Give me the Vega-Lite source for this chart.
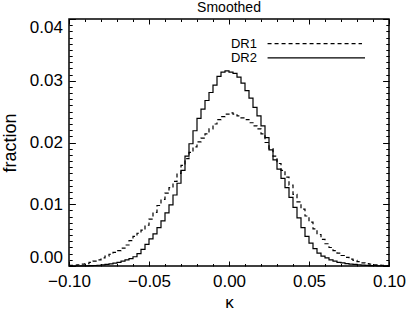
{
  "$schema": "https://vega.github.io/schema/vega-lite/v6.json",
  "width": 320,
  "height": 247,
  "autosize": "none",
  "padding": {"left": 69, "top": 19, "right": 20, "bottom": 47},
  "background": "white",
  "title": {"text": "Smoothed", "font": "Liberation Sans", "fontSize": 14, "fontWeight": "normal", "color": "black", "offset": 1, "anchor": "middle"},
  "config": {
    "view": {"stroke": "black", "strokeWidth": 1.5},
    "axis": {"grid": false, "domain": false, "tickColor": "black", "tickWidth": 1, "labelColor": "black", "titleColor": "black", "labelFont": "Liberation Sans", "titleFont": "Liberation Sans", "titleFontWeight": "normal", "labelOverlap": false}
  },
  "datasets": {
    "hist": [
      {"series": "DR2", "kappa": -0.1, "fraction": 0},
      {"series": "DR2", "kappa": -0.0975, "fraction": 0},
      {"series": "DR2", "kappa": -0.095, "fraction": 0},
      {"series": "DR2", "kappa": -0.0925, "fraction": 0.00002},
      {"series": "DR2", "kappa": -0.09, "fraction": 0.00003},
      {"series": "DR2", "kappa": -0.0875, "fraction": 0.00005},
      {"series": "DR2", "kappa": -0.085, "fraction": 0.00008},
      {"series": "DR2", "kappa": -0.0825, "fraction": 0.00012},
      {"series": "DR2", "kappa": -0.08, "fraction": 0.00018},
      {"series": "DR2", "kappa": -0.0775, "fraction": 0.00025},
      {"series": "DR2", "kappa": -0.075, "fraction": 0.00034},
      {"series": "DR2", "kappa": -0.0725, "fraction": 0.00046},
      {"series": "DR2", "kappa": -0.07, "fraction": 0.0006},
      {"series": "DR2", "kappa": -0.0675, "fraction": 0.0008},
      {"series": "DR2", "kappa": -0.065, "fraction": 0.00098},
      {"series": "DR2", "kappa": -0.0625, "fraction": 0.0012},
      {"series": "DR2", "kappa": -0.06, "fraction": 0.0015},
      {"series": "DR2", "kappa": -0.0575, "fraction": 0.002},
      {"series": "DR2", "kappa": -0.055, "fraction": 0.0027},
      {"series": "DR2", "kappa": -0.0525, "fraction": 0.0035},
      {"series": "DR2", "kappa": -0.05, "fraction": 0.0044},
      {"series": "DR2", "kappa": -0.0475, "fraction": 0.0052},
      {"series": "DR2", "kappa": -0.045, "fraction": 0.0062},
      {"series": "DR2", "kappa": -0.0425, "fraction": 0.0073},
      {"series": "DR2", "kappa": -0.04, "fraction": 0.0086},
      {"series": "DR2", "kappa": -0.0375, "fraction": 0.0099},
      {"series": "DR2", "kappa": -0.035, "fraction": 0.0115},
      {"series": "DR2", "kappa": -0.0325, "fraction": 0.0134},
      {"series": "DR2", "kappa": -0.03, "fraction": 0.0155},
      {"series": "DR2", "kappa": -0.0275, "fraction": 0.0178},
      {"series": "DR2", "kappa": -0.025, "fraction": 0.0198},
      {"series": "DR2", "kappa": -0.0225, "fraction": 0.0219},
      {"series": "DR2", "kappa": -0.02, "fraction": 0.0239},
      {"series": "DR2", "kappa": -0.0175, "fraction": 0.0254},
      {"series": "DR2", "kappa": -0.015, "fraction": 0.0268},
      {"series": "DR2", "kappa": -0.0125, "fraction": 0.0281},
      {"series": "DR2", "kappa": -0.01, "fraction": 0.0293},
      {"series": "DR2", "kappa": -0.0075, "fraction": 0.0307},
      {"series": "DR2", "kappa": -0.005, "fraction": 0.0314},
      {"series": "DR2", "kappa": -0.0025, "fraction": 0.0316},
      {"series": "DR2", "kappa": 0, "fraction": 0.0314},
      {"series": "DR2", "kappa": 0.0025, "fraction": 0.0312},
      {"series": "DR2", "kappa": 0.005, "fraction": 0.0306},
      {"series": "DR2", "kappa": 0.0075, "fraction": 0.0296},
      {"series": "DR2", "kappa": 0.01, "fraction": 0.0284},
      {"series": "DR2", "kappa": 0.0125, "fraction": 0.0272},
      {"series": "DR2", "kappa": 0.015, "fraction": 0.0257},
      {"series": "DR2", "kappa": 0.0175, "fraction": 0.0243},
      {"series": "DR2", "kappa": 0.02, "fraction": 0.0227},
      {"series": "DR2", "kappa": 0.0225, "fraction": 0.0208},
      {"series": "DR2", "kappa": 0.025, "fraction": 0.0188},
      {"series": "DR2", "kappa": 0.0275, "fraction": 0.0172},
      {"series": "DR2", "kappa": 0.03, "fraction": 0.0157},
      {"series": "DR2", "kappa": 0.0325, "fraction": 0.0142},
      {"series": "DR2", "kappa": 0.035, "fraction": 0.0127},
      {"series": "DR2", "kappa": 0.0375, "fraction": 0.0111},
      {"series": "DR2", "kappa": 0.04, "fraction": 0.0095},
      {"series": "DR2", "kappa": 0.0425, "fraction": 0.0078},
      {"series": "DR2", "kappa": 0.045, "fraction": 0.0062},
      {"series": "DR2", "kappa": 0.0475, "fraction": 0.0048},
      {"series": "DR2", "kappa": 0.05, "fraction": 0.0037},
      {"series": "DR2", "kappa": 0.0525, "fraction": 0.0028},
      {"series": "DR2", "kappa": 0.055, "fraction": 0.0021},
      {"series": "DR2", "kappa": 0.0575, "fraction": 0.0016},
      {"series": "DR2", "kappa": 0.06, "fraction": 0.0013},
      {"series": "DR2", "kappa": 0.0625, "fraction": 0.001},
      {"series": "DR2", "kappa": 0.065, "fraction": 0.0008},
      {"series": "DR2", "kappa": 0.0675, "fraction": 0.0006},
      {"series": "DR2", "kappa": 0.07, "fraction": 0.0005},
      {"series": "DR2", "kappa": 0.0725, "fraction": 0.0004},
      {"series": "DR2", "kappa": 0.075, "fraction": 0.0003},
      {"series": "DR2", "kappa": 0.0775, "fraction": 0.00025},
      {"series": "DR2", "kappa": 0.08, "fraction": 0.0002},
      {"series": "DR2", "kappa": 0.0825, "fraction": 0.00015},
      {"series": "DR2", "kappa": 0.085, "fraction": 0.0001},
      {"series": "DR2", "kappa": 0.0875, "fraction": 0.00007},
      {"series": "DR2", "kappa": 0.09, "fraction": 0.00005},
      {"series": "DR2", "kappa": 0.0925, "fraction": 0.00003},
      {"series": "DR2", "kappa": 0.095, "fraction": 0.00002},
      {"series": "DR2", "kappa": 0.0975, "fraction": 0.00001},
      {"series": "DR2", "kappa": 0.1, "fraction": 0.00001},
      {"series": "DR1", "kappa": -0.1, "fraction": 0.0001},
      {"series": "DR1", "kappa": -0.0975, "fraction": 0.00015},
      {"series": "DR1", "kappa": -0.095, "fraction": 0.0002},
      {"series": "DR1", "kappa": -0.0925, "fraction": 0.0003},
      {"series": "DR1", "kappa": -0.09, "fraction": 0.0004},
      {"series": "DR1", "kappa": -0.0875, "fraction": 0.0006},
      {"series": "DR1", "kappa": -0.085, "fraction": 0.0008},
      {"series": "DR1", "kappa": -0.0825, "fraction": 0.001},
      {"series": "DR1", "kappa": -0.08, "fraction": 0.0013},
      {"series": "DR1", "kappa": -0.0775, "fraction": 0.0016},
      {"series": "DR1", "kappa": -0.075, "fraction": 0.0019},
      {"series": "DR1", "kappa": -0.0725, "fraction": 0.0022},
      {"series": "DR1", "kappa": -0.07, "fraction": 0.0025},
      {"series": "DR1", "kappa": -0.0675, "fraction": 0.0029},
      {"series": "DR1", "kappa": -0.065, "fraction": 0.0034},
      {"series": "DR1", "kappa": -0.0625, "fraction": 0.0041},
      {"series": "DR1", "kappa": -0.06, "fraction": 0.0048},
      {"series": "DR1", "kappa": -0.0575, "fraction": 0.0053},
      {"series": "DR1", "kappa": -0.055, "fraction": 0.0058},
      {"series": "DR1", "kappa": -0.0525, "fraction": 0.0066},
      {"series": "DR1", "kappa": -0.05, "fraction": 0.0076},
      {"series": "DR1", "kappa": -0.0475, "fraction": 0.0087},
      {"series": "DR1", "kappa": -0.045, "fraction": 0.0098},
      {"series": "DR1", "kappa": -0.0425, "fraction": 0.0108},
      {"series": "DR1", "kappa": -0.04, "fraction": 0.0118},
      {"series": "DR1", "kappa": -0.0375, "fraction": 0.0127},
      {"series": "DR1", "kappa": -0.035, "fraction": 0.0137},
      {"series": "DR1", "kappa": -0.0325, "fraction": 0.015},
      {"series": "DR1", "kappa": -0.03, "fraction": 0.0163},
      {"series": "DR1", "kappa": -0.0275, "fraction": 0.0174},
      {"series": "DR1", "kappa": -0.025, "fraction": 0.0184},
      {"series": "DR1", "kappa": -0.0225, "fraction": 0.0193},
      {"series": "DR1", "kappa": -0.02, "fraction": 0.0201},
      {"series": "DR1", "kappa": -0.0175, "fraction": 0.0207},
      {"series": "DR1", "kappa": -0.015, "fraction": 0.0214},
      {"series": "DR1", "kappa": -0.0125, "fraction": 0.0222},
      {"series": "DR1", "kappa": -0.01, "fraction": 0.023},
      {"series": "DR1", "kappa": -0.0075, "fraction": 0.0237},
      {"series": "DR1", "kappa": -0.005, "fraction": 0.0242},
      {"series": "DR1", "kappa": -0.0025, "fraction": 0.0246},
      {"series": "DR1", "kappa": 0, "fraction": 0.0248},
      {"series": "DR1", "kappa": 0.0025, "fraction": 0.0246},
      {"series": "DR1", "kappa": 0.005, "fraction": 0.0243},
      {"series": "DR1", "kappa": 0.0075, "fraction": 0.024},
      {"series": "DR1", "kappa": 0.01, "fraction": 0.0237},
      {"series": "DR1", "kappa": 0.0125, "fraction": 0.0232},
      {"series": "DR1", "kappa": 0.015, "fraction": 0.0227},
      {"series": "DR1", "kappa": 0.0175, "fraction": 0.0222},
      {"series": "DR1", "kappa": 0.02, "fraction": 0.0214},
      {"series": "DR1", "kappa": 0.0225, "fraction": 0.02},
      {"series": "DR1", "kappa": 0.025, "fraction": 0.019},
      {"series": "DR1", "kappa": 0.0275, "fraction": 0.0178},
      {"series": "DR1", "kappa": 0.03, "fraction": 0.0166},
      {"series": "DR1", "kappa": 0.0325, "fraction": 0.0155},
      {"series": "DR1", "kappa": 0.035, "fraction": 0.0144},
      {"series": "DR1", "kappa": 0.0375, "fraction": 0.0131},
      {"series": "DR1", "kappa": 0.04, "fraction": 0.0116},
      {"series": "DR1", "kappa": 0.0425, "fraction": 0.0104},
      {"series": "DR1", "kappa": 0.045, "fraction": 0.0092},
      {"series": "DR1", "kappa": 0.0475, "fraction": 0.0081},
      {"series": "DR1", "kappa": 0.05, "fraction": 0.0071},
      {"series": "DR1", "kappa": 0.0525, "fraction": 0.006},
      {"series": "DR1", "kappa": 0.055, "fraction": 0.0051},
      {"series": "DR1", "kappa": 0.0575, "fraction": 0.0043},
      {"series": "DR1", "kappa": 0.06, "fraction": 0.0036},
      {"series": "DR1", "kappa": 0.0625, "fraction": 0.003},
      {"series": "DR1", "kappa": 0.065, "fraction": 0.0025},
      {"series": "DR1", "kappa": 0.0675, "fraction": 0.0021},
      {"series": "DR1", "kappa": 0.07, "fraction": 0.0017},
      {"series": "DR1", "kappa": 0.0725, "fraction": 0.0014},
      {"series": "DR1", "kappa": 0.075, "fraction": 0.0011},
      {"series": "DR1", "kappa": 0.0775, "fraction": 0.0009},
      {"series": "DR1", "kappa": 0.08, "fraction": 0.0007},
      {"series": "DR1", "kappa": 0.0825, "fraction": 0.0005},
      {"series": "DR1", "kappa": 0.085, "fraction": 0.0004},
      {"series": "DR1", "kappa": 0.0875, "fraction": 0.0003},
      {"series": "DR1", "kappa": 0.09, "fraction": 0.0002},
      {"series": "DR1", "kappa": 0.0925, "fraction": 0.00015},
      {"series": "DR1", "kappa": 0.095, "fraction": 0.0001},
      {"series": "DR1", "kappa": 0.0975, "fraction": 0.00005},
      {"series": "DR1", "kappa": 0.1, "fraction": 0.00005}
    ]
  },
  "layer": [
    {
      "data": {"name": "hist"},
      "transform": [{"filter": "datum.series === 'DR1'"}],
      "mark": {"type": "line", "interpolate": "step-after", "color": "black", "strokeWidth": 1.2, "strokeDash": [4, 3]},
      "encoding": {
        "x": {"field": "kappa", "type": "quantitative", "scale": {"domain": [-0.1, 0.1], "nice": false, "zero": false},
          "axis": {"orient": "bottom", "values": [-0.1, -0.09, -0.08, -0.07, -0.06, -0.05, -0.04, -0.03, -0.02, -0.01, 0, 0.01, 0.02, 0.03, 0.04, 0.05, 0.06, 0.07, 0.08, 0.09, 0.1],
            "tickSize": {"condition": {"test": "abs(datum.value*20 - round(datum.value*20)) < 1e-6", "value": -5}, "value": -2.5},
            "labelExpr": "abs(datum.value*20 - round(datum.value*20)) < 1e-6 ? format(datum.value, '.2f') : ''",
            "labelFontSize": 17, "labelPadding": 12, "labelFlush": false,
            "title": "κ", "titleFontSize": 17, "titlePadding": 3}},
        "y": {"field": "fraction", "type": "quantitative", "scale": {"domain": [0, 0.04], "nice": false, "zero": false},
          "axis": {"orient": "left", "values": [0, 0.001, 0.002, 0.003, 0.004, 0.005, 0.006, 0.007, 0.008, 0.009, 0.01, 0.011, 0.012, 0.013, 0.014, 0.015, 0.016, 0.017, 0.018, 0.019, 0.02, 0.021, 0.022, 0.023, 0.024, 0.025, 0.026, 0.027, 0.028, 0.029, 0.03, 0.031, 0.032, 0.033, 0.034, 0.035, 0.036, 0.037, 0.038, 0.039, 0.04],
            "tickSize": {"condition": {"test": "abs(datum.value*100 - round(datum.value*100)) < 1e-6", "value": -6.4}, "value": -3.2},
            "labelExpr": "abs(datum.value*100 - round(datum.value*100)) < 1e-6 ? format(datum.value, '.2f') : ''",
            "labelFontSize": 17, "labelPadding": 13, "labelFlush": true,
            "title": "fraction", "titleFontSize": 18, "titlePadding": 10}}
      }
    },
    {
      "data": {"name": "hist"},
      "transform": [{"filter": "datum.series === 'DR2'"}],
      "mark": {"type": "line", "interpolate": "step-after", "color": "black", "strokeWidth": 1.2},
      "encoding": {
        "x": {"field": "kappa", "type": "quantitative",
          "axis": {"orient": "top", "values": [-0.1, -0.09, -0.08, -0.07, -0.06, -0.05, -0.04, -0.03, -0.02, -0.01, 0, 0.01, 0.02, 0.03, 0.04, 0.05, 0.06, 0.07, 0.08, 0.09, 0.1],
            "tickSize": {"condition": {"test": "abs(datum.value*20 - round(datum.value*20)) < 1e-6", "value": -5}, "value": -2.5},
            "labels": false, "title": null}},
        "y": {"field": "fraction", "type": "quantitative",
          "axis": {"orient": "right", "values": [0, 0.001, 0.002, 0.003, 0.004, 0.005, 0.006, 0.007, 0.008, 0.009, 0.01, 0.011, 0.012, 0.013, 0.014, 0.015, 0.016, 0.017, 0.018, 0.019, 0.02, 0.021, 0.022, 0.023, 0.024, 0.025, 0.026, 0.027, 0.028, 0.029, 0.03, 0.031, 0.032, 0.033, 0.034, 0.035, 0.036, 0.037, 0.038, 0.039, 0.04],
            "tickSize": {"condition": {"test": "abs(datum.value*100 - round(datum.value*100)) < 1e-6", "value": -6.4}, "value": -3.2},
            "labels": false, "title": null}}
      }
    },
    {
      "data": {"values": [{"series": "DR1"}]},
      "mark": {"type": "rule", "color": "black", "strokeWidth": 1.2, "strokeDash": [4, 3]},
      "encoding": {
        "x": {"datum": 0.0241, "type": "quantitative", "axis": null},
        "x2": {"datum": 0.0831},
        "y": {"datum": 0.036, "type": "quantitative", "axis": null}
      }
    },
    {
      "data": {"values": [{"series": "DR2"}]},
      "mark": {"type": "rule", "color": "black", "strokeWidth": 1.2},
      "encoding": {
        "x": {"datum": 0.0241, "type": "quantitative", "axis": null},
        "x2": {"datum": 0.085},
        "y": {"datum": 0.0337, "type": "quantitative", "axis": null}
      }
    },
    {
      "data": {"values": [{"series": "DR1"}]},
      "mark": {"type": "text", "align": "right", "baseline": "middle", "font": "Liberation Sans", "fontSize": 13, "color": "black"},
      "encoding": {
        "x": {"datum": 0.0175, "type": "quantitative", "axis": null},
        "y": {"datum": 0.036, "type": "quantitative", "axis": null},
        "text": {"field": "series"}
      }
    },
    {
      "data": {"values": [{"series": "DR2"}]},
      "mark": {"type": "text", "align": "right", "baseline": "middle", "font": "Liberation Sans", "fontSize": 13, "color": "black"},
      "encoding": {
        "x": {"datum": 0.0175, "type": "quantitative", "axis": null},
        "y": {"datum": 0.0337, "type": "quantitative", "axis": null},
        "text": {"field": "series"}
      }
    }
  ],
  "resolve": {"axis": {"x": "independent", "y": "independent"}}
}
